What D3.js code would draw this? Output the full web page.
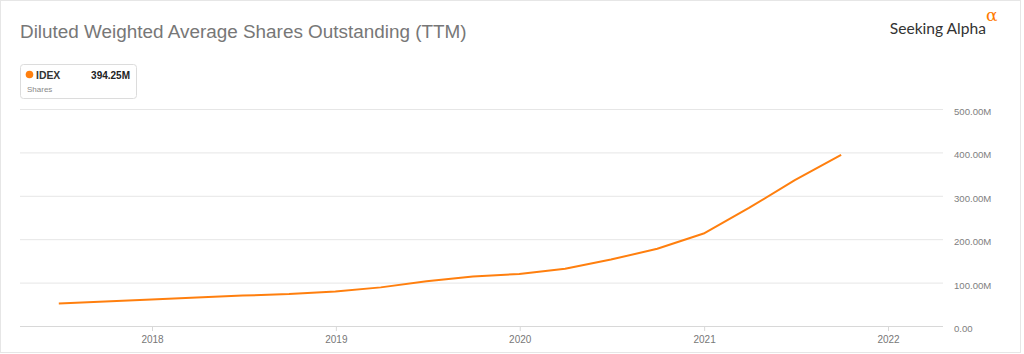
<!DOCTYPE html>
<html lang="en">
	<head>
		<meta charset="utf-8">
		<title>Diluted Weighted Average Shares Outstanding</title>
		<script src="https://d3js.org/d3.v7.min.js"></script>
		<style>
			body { margin: 0; background: #fff; }
			text { font-family: "Liberation Sans", Arial, sans-serif; }
		</style>
	</head>

	<body>
		<script type="text/javascript">

			// data (quarterly, TTM)
			var dates = ["2017-06-30","2017-09-30","2017-12-31","2018-03-31","2018-06-30","2018-09-30",
						"2018-12-31","2019-03-31","2019-06-30","2019-09-30","2019-12-31","2020-03-31",
						"2020-06-30","2020-09-30","2020-12-31","2021-03-31","2021-06-30","2021-09-30"]
			var shares = [52, 56.5, 61, 65.5, 70, 73.5,
						79.5, 89, 103, 114, 120, 132,
						153, 178, 213, 272, 336, 394.25]
			var yearTicks = [2018, 2019, 2020, 2021, 2022]
			var yTicks = [0, 100, 200, 300, 400, 500]
			var seriesName = "IDEX"
			var lastLabel = "394.25M"

			// window setup
			var w = 1024
			var h = 354
			var plotLeft = 20
			var plotRight = 943
			var plotTop = 109
			var plotBottom = 326

			var parse = d3.timeParse("%Y-%m-%d")
			var data = dates.map(function(d, i){ return {date: parse(d), value: shares[i]} })

			var svg = d3.select("body")
						.append("svg")
						.attr("width", w)
						.attr("height", h)

			// frame
			svg.append("rect")
				.attr("x", 0.5).attr("y", 0.5)
				.attr("width", 1020).attr("height", 352)
				.attr("fill", "#fff")
				.attr("stroke", "#e6e6e6")

			// scales
			var xScale = d3.scaleTime()
							.domain([new Date(2018, 0, 1), new Date(2022, 0, 1)])
							.range([152, 888])
			var yScale = d3.scaleLinear()
							.domain([0, 500])
							.range([plotBottom, plotTop])

			// title
			svg.append("text")
				.attr("x", 20).attr("y", 38)
				.attr("font-size", "18.9px")
				.attr("fill", "#777")
				.text("Diluted Weighted Average Shares Outstanding (TTM)")

			// logo
			svg.append("text")
				.attr("x", 986).attr("y", 34)
				.attr("text-anchor", "end")
				.attr("font-size", "15.6px")
				.attr("fill", "#333")
				.style("font-family", "Lato, 'Open Sans', sans-serif")
				.text("Seeking Alpha")
			svg.append("text")
				.attr("x", 986).attr("y", 21)
				.attr("font-size", "17px")
				.attr("fill", "#ff7a00")
				.style("font-family", "'DejaVu Serif', serif")
				.text("α")

			// gridlines + y labels
			var grid = svg.append("g")
			grid.selectAll("line")
				.data(yTicks)
				.enter()
				.append("line")
				.attr("x1", plotLeft).attr("x2", plotRight)
				.attr("y1", function(d){ return yScale(d) + 0.5 })
				.attr("y2", function(d){ return yScale(d) + 0.5 })
				.attr("stroke", function(d){ return d == 0 ? "#d8d8d8" : "#e6e6e6" })
			grid.selectAll("text")
				.data(yTicks)
				.enter()
				.append("text")
				.attr("x", 954)
				.attr("y", function(d){ return yScale(d) + 6 })
				.attr("font-size", "9.6px")
				.attr("fill", "#808080")
				.text(function(d){ return d == 0 ? "0.00" : d3.format(".2f")(d) + "M" })

			// x axis
			var xAxis = d3.axisBottom(xScale)
							.tickValues(yearTicks.map(function(y){ return new Date(y, 0, 1) }))
							.tickFormat(d3.timeFormat("%Y"))
							.tickSize(5)
							.tickPadding(5)
			var gx = svg.append("g")
						.attr("transform", "translate(0," + plotBottom + ")")
						.call(xAxis)
			gx.select(".domain").remove()
			gx.selectAll("line").attr("stroke", "#d8d8d8")
			gx.selectAll("text")
				.attr("fill", "#777")
				.attr("font-size", "10px")
				.style("font-family", "'Liberation Sans', Arial, sans-serif")

			// line
			var line = d3.line()
						.x(function(d){ return xScale(d.date) })
						.y(function(d){ return yScale(d.value) })
			svg.append("path")
				.datum(data)
				.attr("d", line)
				.attr("fill", "none")
				.attr("stroke", "#ff7f0e")
				.attr("stroke-width", 2)
				.attr("stroke-linejoin", "round")

			// legend box
			var lg = svg.append("g")
			lg.append("rect")
				.attr("x", 20.5).attr("y", 64.5)
				.attr("width", 116).attr("height", 34)
				.attr("rx", 3)
				.attr("fill", "#fff")
				.attr("stroke", "#dcdcdc")
			lg.append("circle")
				.attr("cx", 29.5).attr("cy", 74.5)
				.attr("r", 3.8)
				.attr("fill", "#ff7f0e")
			lg.append("text")
				.attr("x", 36).attr("y", 78.5)
				.attr("font-size", "10.4px")
				.attr("font-weight", "bold")
				.attr("fill", "#333")
				.text(seriesName)
			lg.append("text")
				.attr("x", 130).attr("y", 78.5)
				.attr("text-anchor", "end")
				.attr("font-size", "10px")
				.attr("font-weight", "bold")
				.attr("fill", "#222")
				.text(lastLabel)
			lg.append("text")
				.attr("x", 27).attr("y", 91.5)
				.attr("font-size", "8px")
				.attr("fill", "#888")
				.text("Shares")

		</script>

	</body>
</html>
